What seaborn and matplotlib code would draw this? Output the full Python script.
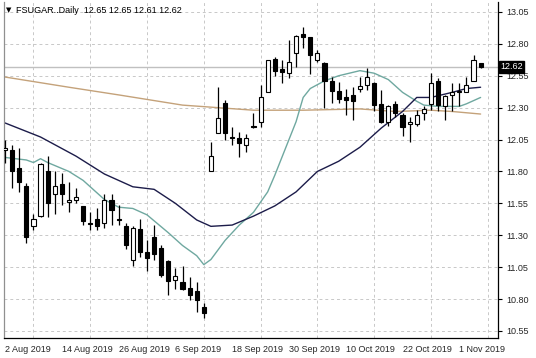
import numpy as np
import pandas as pd
import seaborn as sns
import matplotlib.pyplot as plt
import matplotlib.ticker as mticker

# daily candles, FSUGAR, 2 Aug 2019 .. 6 Nov 2019
opens = [11.97, 11.97, 11.83, 11.69, 11.37, 11.45, 11.80, 11.62, 11.70, 11.56,
         11.58, 11.53, 11.40, 11.43, 11.40, 11.58, 11.43, 11.37, 11.11, 11.35,
         11.17, 11.29, 11.20, 11.10, 10.95, 10.93, 10.89, 10.86, 10.74, 11.80,
         12.10, 12.34, 12.07, 12.06, 12.01, 12.16, 12.19, 12.42, 12.68, 12.60,
         12.57, 12.73, 12.88, 12.85, 12.67, 12.65, 12.51, 12.43, 12.38, 12.40,
         12.45, 12.48, 12.49, 12.33, 12.19, 12.33, 12.24, 12.17, 12.17, 12.26,
         12.33, 12.51, 12.31, 12.40, 12.42, 12.42, 12.51, 12.65]
highs = [12.05, 12.01, 11.98, 11.71, 11.47, 11.87, 11.92, 11.80, 11.79, 11.72,
         11.67, 11.53, 11.48, 11.51, 11.62, 11.62, 11.54, 11.40, 11.37, 11.43,
         11.26, 11.38, 11.22, 11.11, 11.04, 11.06, 10.97, 10.93, 10.77, 12.03,
         12.46, 12.36, 12.15, 12.11, 12.09, 12.26, 12.48, 12.67, 12.70, 12.67,
         12.83, 12.87, 12.93, 12.85, 12.75, 12.66, 12.54, 12.50, 12.45, 12.46,
         12.54, 12.61, 12.50, 12.44, 12.32, 12.35, 12.26, 12.23, 12.28, 12.31,
         12.57, 12.53, 12.40, 12.49, 12.49, 12.54, 12.71, 12.65]
lows = [11.87, 11.67, 11.64, 11.24, 11.34, 11.44, 11.44, 11.47, 11.54, 11.48,
        11.55, 11.38, 11.34, 11.34, 11.36, 11.38, 11.38, 11.19, 11.06, 11.13,
        11.02, 11.11, 10.97, 10.83, 10.88, 10.87, 10.79, 10.70, 10.65, 11.80,
        12.10, 12.05, 12.01, 11.91, 11.95, 12.14, 12.15, 12.42, 12.55, 12.49,
        12.53, 12.62, 12.77, 12.56, 12.66, 12.30, 12.34, 12.34, 12.24, 12.20,
        12.42, 12.44, 12.27, 12.18, 12.16, 12.23, 12.08, 12.03, 12.16, 12.20,
        12.28, 12.27, 12.20, 12.27, 12.31, 12.42, 12.51, 12.61]
closes = [11.98, 11.80, 11.72, 11.29, 11.43, 11.86, 11.55, 11.69, 11.62, 11.58,
          11.60, 11.41, 11.39, 11.37, 11.58, 11.50, 11.42, 11.22, 11.36, 11.17,
          11.12, 11.15, 10.99, 10.94, 10.98, 10.88, 10.83, 10.79, 10.69, 11.92,
          12.22, 12.10, 12.06, 12.02, 12.06, 12.15, 12.38, 12.67, 12.59, 12.58,
          12.66, 12.86, 12.85, 12.71, 12.73, 12.51, 12.43, 12.37, 12.36, 12.35,
          12.47, 12.54, 12.32, 12.19, 12.31, 12.26, 12.15, 12.19, 12.24, 12.29,
          12.49, 12.32, 12.39, 12.42, 12.43, 12.48, 12.67, 12.62]

# moving averages, sampled at the bar index where they were read
ma_fast_idx = [0, 3, 4, 5, 6, 9, 11, 14, 16, 18, 20, 23, 25, 27, 28, 29, 31, 33,
               35, 37, 38, 39, 40, 41, 42, 43, 45, 47, 50, 52, 54, 56, 58, 59,
               61, 64, 65, 67]
ma_fast = [11.91, 11.89, 11.87, 11.90, 11.87, 11.80, 11.73, 11.58, 11.52, 11.51,
           11.46, 11.32, 11.22, 11.14, 11.07, 11.11, 11.26, 11.38, 11.48, 11.64,
           11.77, 11.91, 12.05, 12.19, 12.38, 12.45, 12.51, 12.55, 12.59, 12.57,
           12.52, 12.42, 12.35, 12.32, 12.31, 12.31, 12.33, 12.38]
ma_mid_idx = [0, 5, 10, 14, 18, 21, 24, 27, 29, 32, 35, 38, 41, 44, 47, 50, 53,
              56, 58, 60, 63, 65, 67]
ma_mid = [12.18, 12.07, 11.92, 11.78, 11.68, 11.66, 11.55, 11.42, 11.37, 11.38,
          11.45, 11.53, 11.64, 11.80, 11.88, 11.99, 12.14, 12.27, 12.38, 12.38,
          12.42, 12.45, 12.46]
ma_slow_idx = [0, 9, 16, 25, 30, 35, 42, 50, 55, 60, 63, 67]
ma_slow = [12.54, 12.46, 12.40, 12.32, 12.30, 12.28, 12.28, 12.29, 12.27, 12.28,
           12.27, 12.25]

date_labels = ["2 Aug 2019", "14 Aug 2019", "26 Aug 2019", "6 Sep 2019",
               "18 Sep 2019", "30 Sep 2019", "10 Oct 2019", "22 Oct 2019",
               "1 Nov 2019"]
price_ticks = [10.55, 10.80, 11.05, 11.30, 11.55, 11.80, 12.05, 12.30, 12.55,
               12.80, 13.05]

df = pd.DataFrame({"open": opens, "high": highs, "low": lows, "close": closes})
df["bar"] = np.arange(len(df))
df["up"] = df["close"] >= df["open"]

sns.set_style("white")
plt.rcParams["font.family"] = ["Liberation Sans", "DejaVu Sans"]

fig = plt.figure(figsize=(5.36, 3.58), dpi=100)
ax = fig.add_axes([4 / 536, 20 / 358, 494 / 536, 336 / 358])

# wicks + bodies
ax.vlines(df["bar"], df["low"], df["high"], color="black", lw=0.9, zorder=3)
body_lo = df[["open", "close"]].min(axis=1)
body_h = (df["close"] - df["open"]).abs().clip(lower=0.004)
ax.bar(df["bar"], body_h, bottom=body_lo, width=0.58,
       color=np.where(df["up"], "white", "black"), edgecolor="black",
       linewidth=0.8, zorder=4)

sns.lineplot(x=ma_slow_idx, y=ma_slow, ax=ax, color="#c4a27a", lw=1.0, zorder=2)
sns.lineplot(x=ma_fast_idx, y=ma_fast, ax=ax, color="#6fa8a0", lw=1.0, zorder=2)
sns.lineplot(x=ma_mid_idx, y=ma_mid, ax=ax, color="#1c1c4a", lw=1.0, zorder=2)

# bid line
ax.axhline(closes[-1], color="#c0c0c0", lw=1.0, zorder=1)

ax.set_xlim(-0.15, 69.45)
ax.set_ylim(10.495, 13.128)

ax.set_xticks(np.arange(0, 8 * len(date_labels), 8))
ax.set_xticklabels(date_labels, ha="left", fontsize=6.5)
ax.xaxis.set_minor_locator(mticker.MultipleLocator(4))
ax.yaxis.tick_right()
ax.set_yticks(price_ticks)
ax.set_yticklabels([f"{p:.2f}" for p in price_ticks], fontsize=6.5)
ax.tick_params(axis="x", which="major", length=3, pad=2, color="black")
ax.tick_params(axis="x", which="minor", length=0)
ax.tick_params(axis="y", length=3, pad=3, color="black")

ax.grid(False)
ax.grid(True, axis="x", which="minor", color="#c8c8c8", ls=(0, (3, 3)), lw=0.7)
ax.grid(True, axis="y", which="major", color="#c8c8c8", ls=(0, (3, 3)), lw=0.7)
ax.set_axisbelow(True)

ax.spines["top"].set_visible(False)
ax.spines["left"].set_color("#909090")
ax.spines["right"].set_color("black")
ax.spines["bottom"].set_color("black")
for s in ax.spines.values():
    s.set_linewidth(0.9)

ax.text(1.004, closes[-1], f"{closes[-1]:.2f}", transform=ax.get_yaxis_transform(),
        color="white", fontsize=6.5, va="center", ha="left",
        bbox=dict(boxstyle="square,pad=0.15", fc="black", ec="black"), zorder=6,
        clip_on=False)

header = "FSUGAR..Daily  {:.2f} {:.2f} {:.2f} {:.2f}".format(
    opens[-1], highs[-1], lows[-1], closes[-1])
ax.text(0.005, 0.986, "\u25bc", transform=ax.transAxes, fontsize=5,
        va="top", ha="left", color="black", family="DejaVu Sans")
ax.text(0.024, 0.988, header, transform=ax.transAxes, fontsize=6.5,
        va="top", ha="left", color="black")

ax.set_xlabel("")
ax.set_ylabel("")
fig.savefig("out.png", dpi=100)
